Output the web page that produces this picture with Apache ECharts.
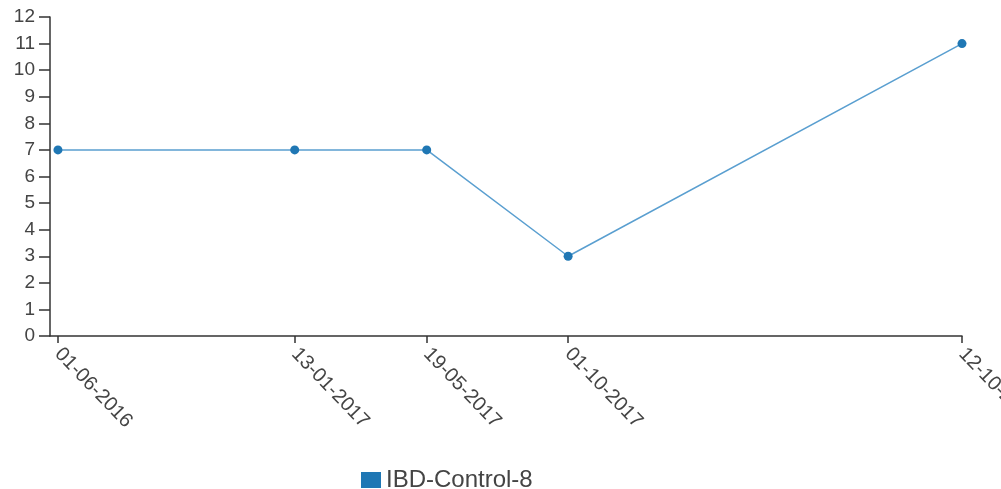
<!DOCTYPE html>
<html><head><meta charset="utf-8">
<script src="https://cdn.jsdelivr.net/npm/echarts@6/dist/echarts.min.js"></script>
<style>html,body{margin:0;padding:0;background:#fff}#c{width:1001px;height:489px}</style>
</head><body><div id="c"></div>
<script>
var dates = ['2016-06-01', '2017-01-13', '2017-05-19', '2017-10-01', '2018-10-12'];
var values = [7, 7, 7, 3, 11];
var seriesName = 'IBD-Control-8';
var yTicks = [0,1,2,3,4,5,6,7,8,9,10,11,12];

var ts = dates.map(function(d){ return Date.parse(d + 'T00:00:00Z'); });
var DAY = 86400000;
function fmt(v){
  var d = new Date(v);
  var dd = String(d.getUTCDate()).padStart(2,'0');
  var mm = String(d.getUTCMonth()+1).padStart(2,'0');
  return dd + '-' + mm + '-' + d.getUTCFullYear();
}
var FONT = 'Liberation Sans, Arial, sans-serif';
var chart = echarts.init(document.getElementById('c'), null, {renderer:'canvas'});
chart.setOption({
  animation: false,
  grid: {left: 50, right: 39, top: 17, bottom: 153, containLabel: false, outerBoundsMode: 'none'},
  legend: {
    top: 463, left: 356,
    icon: 'rect', itemWidth: 20, itemHeight: 16, itemGap: 6,
    textStyle: {fontFamily: FONT, fontSize: 24, color: '#444'},
    data: [seriesName]
  },
  xAxis: {
    type: 'value',
    min: ts[0] - 7.6 * DAY,
    max: ts[ts.length-1],
    splitLine: {show: false},
    axisLine: {show: true, lineStyle: {color: '#333', width: 1.5}},
    axisTick: {show: true, customValues: ts, length: 7, lineStyle: {color: '#333', width: 1.5}},
    axisLabel: {
      customValues: ts, rotate: -46, formatter: fmt, margin: 15,
      fontFamily: FONT, fontSize: 20, color: '#444'
    }
  },
  yAxis: {
    type: 'value', min: 0, max: 12, interval: 1,
    splitLine: {show: false},
    axisLine: {show: true, lineStyle: {color: '#333', width: 1.5}},
    axisTick: {show: true, length: 11, lineStyle: {color: '#333', width: 1.5}},
    axisLabel: {
      margin: 15, fontFamily: FONT, fontSize: 19, color: '#444',
      customValues: yTicks
    }
  },
  series: [{
    name: seriesName, type: 'line',
    data: ts.map(function(t,i){ return [t, values[i]]; }),
    symbol: 'circle', symbolSize: 9,
    itemStyle: {color: '#1f77b4'},
    lineStyle: {color: '#5a9fd0', width: 1.5}
  }]
});
</script></body></html>
